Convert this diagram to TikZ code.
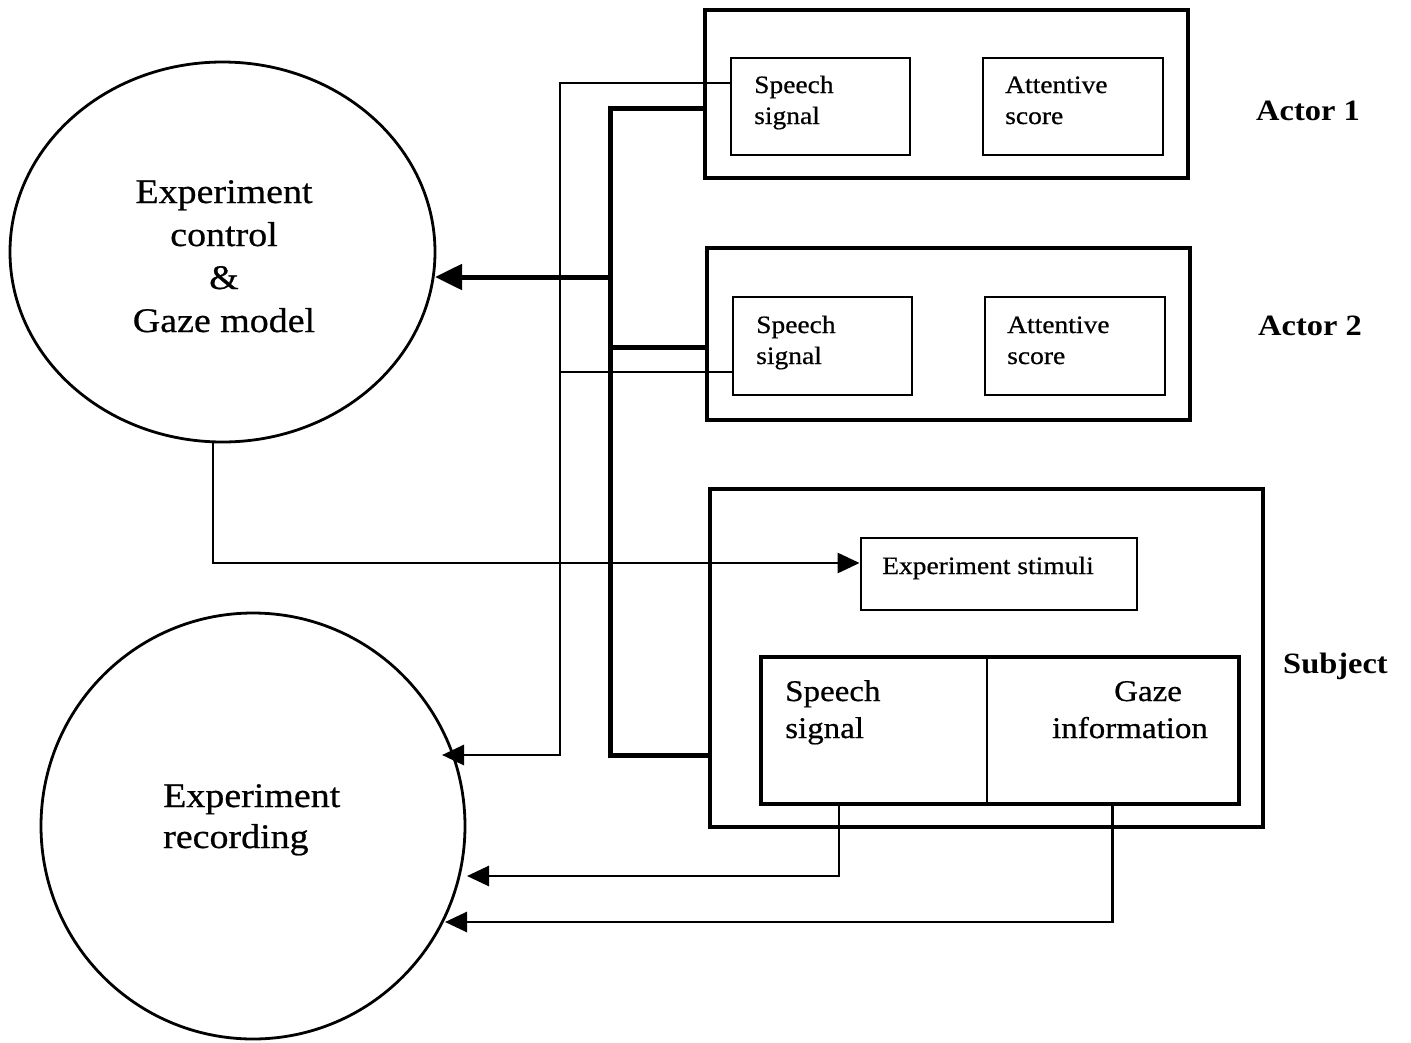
\documentclass[tikz,border=0pt]{standalone}
\usepackage{fontspec}
\setmainfont{Liberation Serif}[FakeStretch=1.1,UprightFeatures={FakeBold=0.6}]
\usetikzlibrary{shapes.geometric,arrows.meta}
\begin{document}
\begin{tikzpicture}[x=1pt,y=-1pt,
  outerbox/.style={draw,line width=4.5pt,inner sep=0pt},
  innerbox/.style={draw,line width=2.8pt,inner sep=0pt},
  oval/.style={draw,ellipse,line width=2.8pt,inner sep=0pt},
  thinline/.style={line width=2.8pt},
  thickline/.style={line width=5pt},
  bigtip/.style={-{Triangle[length=27pt,width=25pt]}},
  smalltip/.style={-{Triangle[length=22pt,width=20pt]}},
  boxtext/.style={font=\fontsize{25}{31}\selectfont,anchor=base west,align=left,inner sep=0pt},
  subtext/.style={font=\fontsize{30}{37}\selectfont,anchor=base,inner sep=0pt},
  label/.style={font=\fontsize{29.5}{36}\selectfont\bfseries,anchor=base west,inner sep=0pt}]
\useasboundingbox (0,0) rectangle (1411,1042);

% circles
\node[oval,minimum width=425pt,minimum height=380pt] (c1) at (222.5,252) {};
\node[oval,minimum width=424pt,minimum height=426pt] (c2) at (253,826) {};
% multi-line nodes: base anchor = baseline of the last line
\node[font=\fontsize{34.5}{43}\selectfont,align=center,anchor=base,inner sep=0pt] (c1t) at (224,332) {Experiment\\control\\\&\\Gaze model};
\node[font=\fontsize{34.5}{41}\selectfont,align=left,anchor=base west,inner sep=0pt] (c2t) at (163,848) {Experiment\\recording};

% actor 1
\node[outerbox,minimum width=483pt,minimum height=168pt] (a1) at (946.5,94) {};
\node[innerbox,minimum width=179pt,minimum height=97pt] (s1) at (820.5,106.5) {};
\node[innerbox,minimum width=180pt,minimum height=97pt] (t1) at (1073,106.5) {};
\node[boxtext] (s1t) at (754,124) {Speech\\signal};
\node[boxtext] (t1t) at (1005,124) {Attentive\\score};
\node[label] (l1) at (1256,120) {Actor 1};

% actor 2
\node[outerbox,minimum width=483pt,minimum height=172pt] (a2) at (948.5,334) {};
\node[innerbox,minimum width=179pt,minimum height=98pt] (s2) at (822.5,346) {};
\node[innerbox,minimum width=180pt,minimum height=98pt] (t2) at (1075,346) {};
\node[boxtext] (s2t) at (756,364) {Speech\\signal};
\node[boxtext] (t2t) at (1007,364) {Attentive\\score};
\node[label] (l2) at (1258,335) {Actor 2};

% subject
\node[outerbox,minimum width=553pt,minimum height=338pt] (sub) at (986.5,658) {};
\node[innerbox,minimum width=276pt,minimum height=72pt] (st) at (999,574) {};
\node[boxtext] (stt) at (882,574) {Experiment stimuli};
\node[draw,line width=2.4pt,inner sep=0pt,minimum width=225pt,minimum height=145pt] (sg) at (874.5,730.5) {};
\node[draw,line width=2.4pt,inner sep=0pt,minimum width=251pt,minimum height=145pt] (gz) at (1112.5,730.5) {};
\draw[line width=4.5pt] (sg.north west) rectangle (gz.south east);
\node[subtext,anchor=base west,align=left] (sgt) at (785,738) {Speech\\signal};
\node[subtext] (gzt1) at (1148,701) {Gaze};
\node[subtext] (gzt2) at (1130,738) {information};
\node[label] (l3) at (1283,673) {Subject};

% arrow tips on the circles
\coordinate (c1tip) at (435,277);
\coordinate (c2tip1) at (442,755);
\coordinate (c2tip2) at (467,876);
\coordinate (c2tip3) at (445,922);

% thin bus
\draw[thinline,smalltip] ([yshift=23.5pt]s1.west) -- (560,83) -- (560,755) -- (c2tip1);
\draw[thinline] ([yshift=-26pt]s2.west) -- (560,372);

% thick bus
\draw[thickline] ([yshift=-14pt]a1.west) -- (610,108) -- (610,755) -- ([yshift=-97pt]sub.west);
\draw[thickline] ([yshift=-13pt]a2.west) -- (610,347);
\draw[thickline,bigtip] (610,277) -- (c1tip);

% control -> stimuli
\draw[thinline,smalltip] ([xshift=-9.5pt]c1.south) |- ([yshift=11pt]st.west);

% subject -> recording
\draw[thinline,smalltip] ([xshift=-35.5pt]sg.south) |- (c2tip2);
\draw[thinline,smalltip] (gz.south) |- (c2tip3);
\end{tikzpicture}
\end{document}
